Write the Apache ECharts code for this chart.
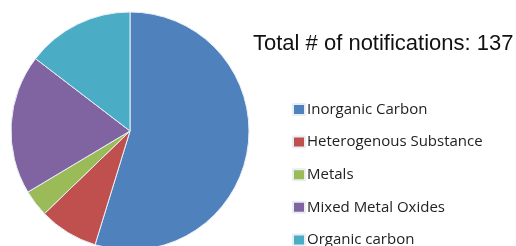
<!DOCTYPE html>
<html>
<head>
<meta charset="utf-8">
<script src="https://cdn.jsdelivr.net/npm/echarts@6/dist/echarts.min.js"></script>
<style>
  html, body { margin: 0; padding: 0; background: #fff; }
  #chart { width: 516px; height: 246px; }
</style>
</head>
<body>
<div id="chart"></div>
<script>
const categories = ['Inorganic Carbon', 'Heterogenous Substance', 'Metals', 'Mixed Metal Oxides', 'Organic carbon']
const counts = [75, 11, 5, 26, 20]
const colors = ['#4f81bd', '#c0504d', '#9bbb59', '#8064a2', '#4bacc6']
const totalLabel = 'Total # of notifications: 137'

const myChart = echarts.init(document.getElementById('chart'))
const option = {
  animation: false,
  title: {
    text: totalLabel,
    left: 248,
    top: 28,
    textStyle: {
      fontFamily: 'Liberation Sans',
      fontWeight: 'normal',
      fontSize: 22,
      color: '#111'
    }
  },
  legend: {
    orient: 'vertical',
    left: 292,
    top: 102,
    height: 160,
    padding: 0,
    itemWidth: 12,
    itemHeight: 11,
    itemGap: 17.6,
    icon: 'rect',
    data: categories,
    textStyle: {
      fontFamily: 'Open Sans',
      fontSize: 15,
      color: '#222',
      padding: [0, 0, 0, -3]
    }
  },
  series: [
    {
      type: 'pie',
      center: [130, 131],
      radius: 119,
      startAngle: 90,
      clockwise: true,
      label: { show: false },
      labelLine: { show: false },
      itemStyle: {
        borderColor: '#e8eef6',
        borderWidth: 1
      },
      data: categories.map((name, i) => ({
        name,
        value: counts[i],
        itemStyle: { color: colors[i] }
      }))
    }
  ]
}
myChart.setOption(option)
</script>
</body>
</html>
